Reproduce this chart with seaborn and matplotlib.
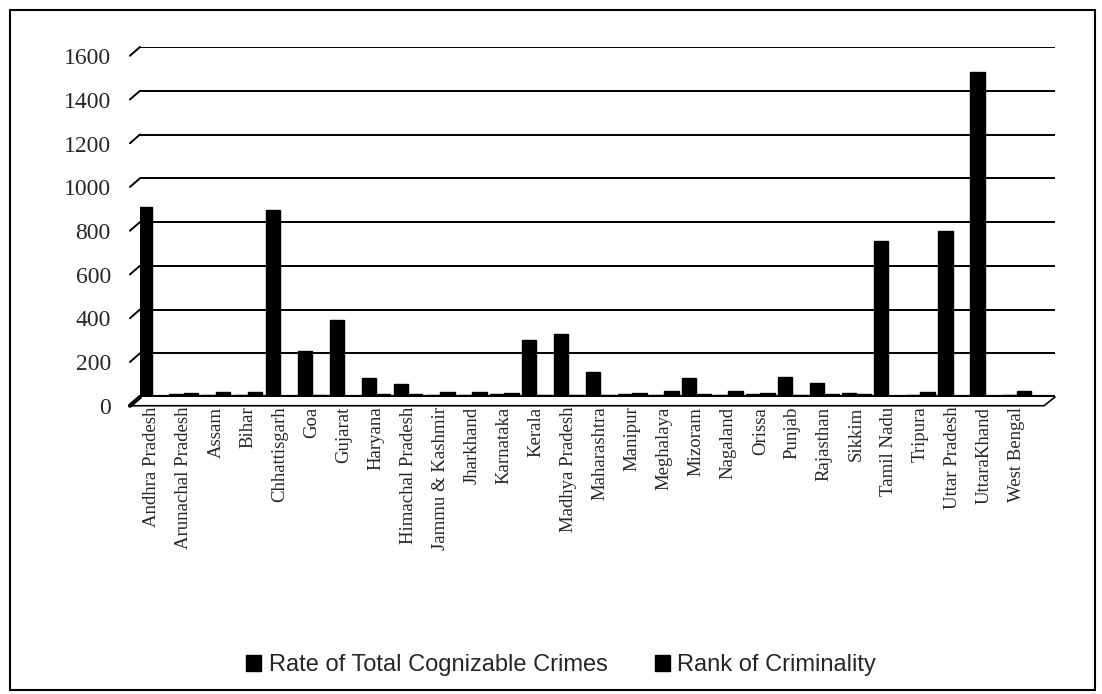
import pandas as pd
import seaborn as sns
import matplotlib.pyplot as plt
from matplotlib.patches import Rectangle
from matplotlib.transforms import ScaledTranslation

# States on the x axis
states = ['Andhra Pradesh', 'Arunachal Pradesh', 'Assam', 'Bihar', 'Chhattisgarh',
          'Goa', 'Gujarat', 'Haryana', 'Himachal Pradesh', 'Jammu & Kashmir',
          'Jharkhand', 'Karnataka', 'Kerala', 'Madhya Pradesh', 'Maharashtra',
          'Manipur', 'Meghalaya', 'Mizoram', 'Nagaland', 'Orissa', 'Punjab',
          'Rajasthan', 'Sikkim', 'Tamil Nadu', 'Tripura', 'Uttar Pradesh',
          'UttaraKhand', 'West Bengal']

# Values (small ones estimated)
crime_rate = [870, 12, 10, 8, 855, 210, 350, 88, 58, 10, 9, 15, 262, 290, 116,
              14, 8, 87, 7, 12, 90, 62, 18, 714, 9, 760, 1485, 8]
crime_rank = [2, 19, 21, 25, 3, 9, 6, 12, 15, 22, 23, 17, 8, 7, 10,
              18, 26, 13, 28, 20, 11, 14, 16, 5, 24, 4, 1, 27]

series_names = ['Rate of Total Cognizable Crimes', 'Rank of Criminality']

df = pd.DataFrame({
    'State': states * 2,
    'Value': crime_rate + crime_rank,
    'Series': [series_names[0]] * len(states) + [series_names[1]] * len(states),
})

sns.set_style('white')

fig = plt.figure(figsize=(11.02, 6.94), dpi=100)
ax = fig.add_axes([140 / 1102, (694 - 397) / 694, (1055 - 140) / 1102, 350 / 694])

sns.barplot(data=df, x='State', y='Value', hue='Series', palette=['black', 'black'],
            width=0.9, ax=ax, edgecolor='black', saturation=1)

ax.set_ylim(0, 1600)
ax.set_xlim(-0.37, 28.2)
ax.set_yticks(range(0, 1601, 200))

# gridlines with the small slanted 3D wall edge on the left
tr = ax.get_yaxis_transform()
for y in range(200, 1601, 200):
    ax.axhline(y, color='black', lw=1.4, zorder=0)
    ax.plot([-0.011, 0.0], [y - 40, y], color='black', lw=1.4,
            transform=tr, clip_on=False)
ax.axhline(0, color='black', lw=3, zorder=3)
ax.plot([-0.011, 0.0], [-40, 0], color='black', lw=3, transform=tr, clip_on=False)
ax.plot([-0.011, 0.988, 1.0], [-40, -40, 0], color='black', lw=1.2,
        transform=tr, clip_on=False)

for s in ax.spines.values():
    s.set_visible(False)

ax.set_xlabel('')
ax.set_ylabel('')
ax.tick_params(axis='y', length=0, pad=21, labelsize=17)
ax.tick_params(axis='x', length=0, pad=7, labelsize=13.5)
for lbl in ax.get_yticklabels() + ax.get_xticklabels():
    lbl.set_fontfamily('Liberation Serif')
shift = ScaledTranslation(0, -9 / 100, fig.dpi_scale_trans)
for lbl in ax.get_yticklabels():
    lbl.set_transform(lbl.get_transform() + shift)
plt.setp(ax.get_xticklabels(), rotation=90)

leg = ax.legend(loc='center', bbox_to_anchor=((561 - 140) / 915, (397 - 665) / 350),
                ncol=2, frameon=False, handlelength=0.65, handleheight=0.65,
                handletextpad=0.3, columnspacing=2.0,
                prop={'family': 'Liberation Sans', 'size': 17})

fig.patches.append(Rectangle((10 / 1102, 4 / 694), 1085 / 1102, 680 / 694,
                             transform=fig.transFigure, fill=False,
                             edgecolor='black', lw=1.5))

fig.savefig('out.png', dpi=100)
